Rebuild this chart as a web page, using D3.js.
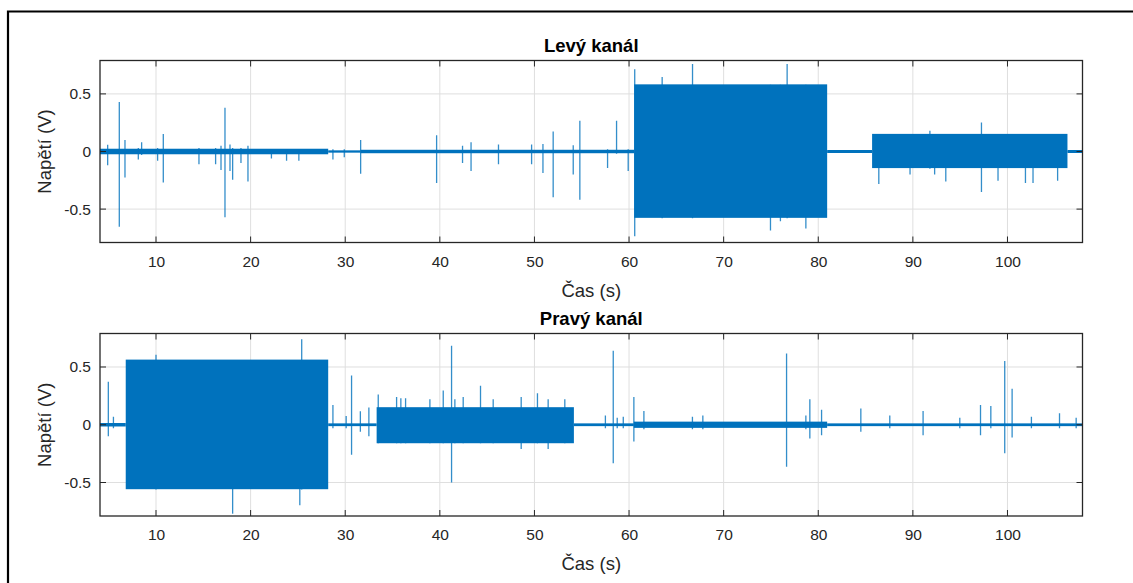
<!DOCTYPE html>
<html>
<head>
<meta charset="utf-8">
<script src="https://cdn.jsdelivr.net/npm/d3@7"></script>
<style>
  body { margin: 0; background: #fff; }
  svg { display: block; font-family: "Liberation Sans", Arial, sans-serif; }
  .tick text { fill: #262626; font-size: 15.5px; }
  .axis-label { fill: #262626; font-size: 18.5px; }
  .title { fill: #000; font-size: 18.5px; font-weight: bold; }
</style>
</head>
<body>
<svg width="1133" height="583"></svg>
<script>
'use strict';

// time axis (s) and voltage axis (V)
const xDomain = [4.08, 107.93];
const yDomain = [-0.79, 0.79];
const xTicks = [10, 20, 30, 40, 50, 60, 70, 80, 90, 100];
const yTicks = [-0.5, 0, 0.5];
const yTickLabels = ['-0.5', '0', '0.5'];

// left channel: background noise [t0, t1, amplitude]
const leftNoise = [[4.08, 28.2, 0.024], [28.2, 31.6, 0.01], [31.6, 60.54, 0.015],
  [80.94, 85.69, 0.013], [106.34, 107.93, 0.013]];
// tone bursts [t0, t1, low, high]
const leftBursts = [[60.54, 80.94, -0.576, 0.583], [85.69, 106.34, -0.144, 0.153]];
// spikes [t, high, low]
const leftSpikes = [
  [4.89, 0.058, -0.12], [6.12, 0.43, -0.654], [6.72, 0.10, -0.225], [8.13, 0.03, -0.07],
  [8.48, 0.08, -0.03], [10.17, 0.03, -0.08], [10.77, 0.153, -0.27], [14.54, 0.03, -0.11],
  [16.3, 0.03, -0.11], [16.87, 0.05, -0.16], [17.29, 0.38, -0.571], [17.82, 0.06, -0.17],
  [18.1, 0.03, -0.245], [18.98, 0.03, -0.1], [19.72, 0.05, -0.26], [22.2, 0.02, -0.06],
  [23.8, 0.02, -0.08], [25.1, 0.02, -0.08], [28.7, 0.02, -0.07], [29.9, 0.02, -0.05],
  [31.63, 0.099, -0.193], [39.66, 0.14, -0.273], [42.4, 0.05, -0.1], [43.3, 0.08, -0.17],
  [46.2, 0.06, -0.11], [49.7, 0.06, -0.11], [50.9, 0.065, -0.187], [51.98, 0.173, -0.398],
  [54.1, 0.055, -0.2], [54.8, 0.266, -0.418], [57.73, 0.02, -0.144], [58.68, 0.268, -0.02],
  [59.91, 0.02, -0.17], [60.6, 0.713, -0.735], [63.5, 0.646, -0.58], [66.71, 0.759, -0.58],
  [74.95, 0.58, -0.686], [76.0, 0.58, -0.605], [76.71, 0.759, -0.58], [78.69, 0.58, -0.668],
  [86.4, 0.15, -0.282], [89.7, 0.15, -0.2], [91.8, 0.18, -0.15], [92.3, 0.15, -0.2],
  [93.48, 0.15, -0.26], [97.25, 0.251, -0.351], [99.0, 0.15, -0.254], [101.9, 0.15, -0.273],
  [102.7, 0.15, -0.273], [105.3, 0.15, -0.254]
];

// right channel
const rightNoise = [[4.08, 6.8, 0.015], [28.2, 33.32, 0.012], [54.17, 60.5, 0.012],
  [60.5, 80.94, 0.027], [80.94, 107.93, 0.012]];
const rightBursts = [[6.8, 28.2, -0.558, 0.564], [33.32, 54.17, -0.16, 0.152]];
const rightSpikes = [
  [4.96, 0.372, -0.10], [5.5, 0.07, -0.03], [10.0, 0.605, -0.56], [18.1, 0.56, -0.77],
  [25.2, 0.56, -0.697], [25.4, 0.741, -0.56], [28.7, 0.17, -0.03], [30.1, 0.075, -0.03],
  [30.67, 0.427, -0.26], [31.6, 0.117, -0.06], [32.5, 0.15, -0.1], [33.49, 0.262, -0.16],
  [35.43, 0.24, -0.16], [35.88, 0.23, -0.16], [36.38, 0.23, -0.16], [38.95, 0.22, -0.16],
  [40.36, 0.296, -0.16], [41.24, 0.683, -0.50], [41.59, 0.22, -0.16], [42.47, 0.24, -0.16],
  [44.3, 0.337, -0.16], [45.64, 0.22, -0.16], [48.6, 0.24, -0.21], [50.32, 0.273, -0.16],
  [51.45, 0.22, -0.21], [53.21, 0.22, -0.16], [57.5, 0.08, -0.03], [58.33, 0.64, -0.334],
  [58.75, 0.06, -0.03], [59.39, 0.07, -0.03], [60.51, 0.24, -0.145], [61.57, 0.12, -0.04],
  [66.7, 0.07, -0.04], [67.8, 0.08, -0.04], [76.65, 0.616, -0.363], [78.69, 0.08, -0.04],
  [79.11, 0.22, -0.12], [80.35, 0.13, -0.09], [84.5, 0.14, -0.06], [87.56, 0.08, -0.03],
  [91.08, 0.12, -0.09], [94.96, 0.06, -0.03], [97.15, 0.17, -0.09], [98.24, 0.163, -0.03],
  [99.71, 0.553, -0.247], [100.49, 0.311, -0.11], [102.53, 0.07, -0.03], [105.5, 0.1, -0.03],
  [107.26, 0.06, -0.03]
];

const svg = d3.select('svg');
const blue = '#0072bd';

// figure frame (only left and top edges fall inside the picture)
svg.append('path')
  .attr('d', 'M8,590 V11.5 H1140')
  .attr('fill', 'none')
  .attr('stroke', '#000')
  .attr('stroke-width', 2.2);

const render = (box, title, noise, bursts, spikes, id) => {
  const innerWidth = box.right - box.left;
  const innerHeight = box.bottom - box.top;

  const xScale = d3.scaleLinear().domain(xDomain).range([0, innerWidth]);
  const yScale = d3.scaleLinear().domain(yDomain).range([innerHeight, 0]);

  const g = svg.append('g')
    .attr('transform', `translate(${box.left},${box.top})`);

  // grid
  g.append('g').selectAll('line').data(xTicks).enter().append('line')
    .attr('x1', d => xScale(d)).attr('x2', d => xScale(d))
    .attr('y1', 0).attr('y2', innerHeight)
    .attr('stroke', '#dfdfdf').attr('stroke-width', 1);
  g.append('g').selectAll('line').data(yTicks).enter().append('line')
    .attr('y1', d => yScale(d)).attr('y2', d => yScale(d))
    .attr('x1', 0).attr('x2', innerWidth)
    .attr('stroke', '#dfdfdf').attr('stroke-width', 1);

  g.append('clipPath').attr('id', id)
    .append('rect').attr('width', innerWidth).attr('height', innerHeight);

  const plot = g.append('g').attr('clip-path', `url(#${id})`);

  plot.selectAll('rect.noise').data(noise).enter().append('rect')
    .attr('class', 'noise')
    .attr('x', d => xScale(d[0]))
    .attr('width', d => xScale(d[1]) - xScale(d[0]))
    .attr('y', d => yScale(d[2]))
    .attr('height', d => yScale(-d[2]) - yScale(d[2]))
    .attr('fill', blue);

  plot.selectAll('line.spike').data(spikes).enter().append('line')
    .attr('class', 'spike')
    .attr('x1', d => xScale(d[0])).attr('x2', d => xScale(d[0]))
    .attr('y1', d => yScale(d[1])).attr('y2', d => yScale(d[2]))
    .attr('stroke', blue).attr('stroke-width', 1.3).attr('stroke-opacity', 0.8);

  plot.selectAll('rect.burst').data(bursts).enter().append('rect')
    .attr('class', 'burst')
    .attr('x', d => xScale(d[0]))
    .attr('width', d => xScale(d[1]) - xScale(d[0]))
    .attr('y', d => yScale(d[3]))
    .attr('height', d => yScale(d[2]) - yScale(d[3]))
    .attr('fill', blue);

  // axes, MATLAB style: ticks inside, box all round
  const xAxis = d3.axisBottom(xScale).tickValues(xTicks).tickSize(0).tickPadding(13);
  const xAxisG = g.append('g').call(xAxis)
    .attr('transform', `translate(0,${innerHeight})`);
  xAxisG.select('.domain').remove();

  const yAxis = d3.axisLeft(yScale).tickValues(yTicks)
    .tickFormat((d, i) => yTickLabels[i]).tickSize(0).tickPadding(9);
  const yAxisG = g.append('g').call(yAxis);
  yAxisG.select('.domain').remove();

  const tickLen = 6;
  const ticks = g.append('g').attr('stroke', '#262626').attr('stroke-width', 1);
  xTicks.forEach(t => {
    ticks.append('line').attr('x1', xScale(t)).attr('x2', xScale(t))
      .attr('y1', 0).attr('y2', tickLen);
    ticks.append('line').attr('x1', xScale(t)).attr('x2', xScale(t))
      .attr('y1', innerHeight).attr('y2', innerHeight - tickLen);
  });
  yTicks.forEach(t => {
    ticks.append('line').attr('y1', yScale(t)).attr('y2', yScale(t))
      .attr('x1', 0).attr('x2', tickLen);
    ticks.append('line').attr('y1', yScale(t)).attr('y2', yScale(t))
      .attr('x1', innerWidth).attr('x2', innerWidth - tickLen);
  });

  g.append('rect')
    .attr('width', innerWidth).attr('height', innerHeight)
    .attr('fill', 'none').attr('stroke', '#262626').attr('stroke-width', 1.3);

  g.append('text')
    .attr('class', 'axis-label')
    .attr('x', innerWidth / 2)
    .attr('y', innerHeight + 54)
    .attr('text-anchor', 'middle')
    .text('Čas (s)');

  g.append('text')
    .attr('class', 'axis-label')
    .attr('transform', `translate(${45 - box.left + 6},${innerHeight / 2}) rotate(-90)`)
    .attr('text-anchor', 'middle')
    .text('Napětí (V)');

  g.append('text')
    .attr('class', 'title')
    .attr('x', innerWidth / 2)
    .attr('y', -9)
    .attr('text-anchor', 'middle')
    .text(title);
};

render({ left: 100, right: 1082.5, top: 60.5, bottom: 242.5 },
  'Levý kanál', leftNoise, leftBursts, leftSpikes, 'clip-left');
render({ left: 100, right: 1082.5, top: 333.5, bottom: 516 },
  'Pravý kanál', rightNoise, rightBursts, rightSpikes, 'clip-right');
</script>
</body>
</html>
